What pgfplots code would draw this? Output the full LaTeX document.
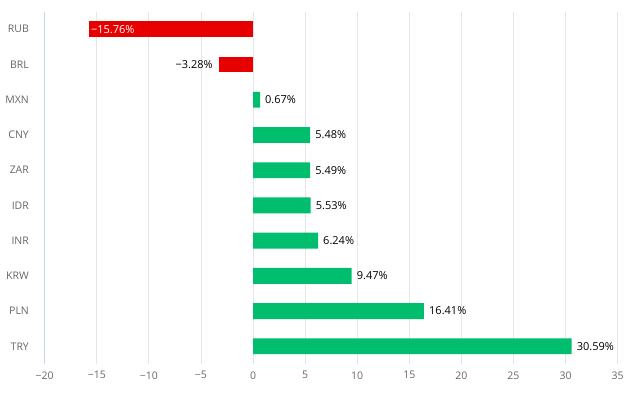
\documentclass[border=0pt]{standalone}
\usepackage{pgfplots}
\pgfplotsset{compat=1.18}
\usepackage{fontspec}
\setmainfont{Open Sans}
\definecolor{redbar}{HTML}{E60000}
\definecolor{greenbar}{HTML}{00BE6E}
\definecolor{gridc}{HTML}{E6E6E6}
\definecolor{axisc}{HTML}{CCD6EB}
\definecolor{tickc}{HTML}{666666}
\definecolor{labc}{HTML}{000000}
\begin{document}
\begin{tikzpicture}
\begin{axis}[
  scale only axis, width=573.6pt, height=352.6pt,
  xmin=-20, xmax=35, ymin=-0.5, ymax=9.5, y dir=reverse,
  axis x line*=bottom, axis y line*=left,
  x axis line style={draw=none},
  y axis line style={draw=axisc, line width=0.8pt, -},
  xtick={-20,-15,...,35},
  xticklabels={−20,−15,−10,−5,0,5,10,15,20,25,30,35},
  xtick style={draw=none},
  xmajorgrids, grid style={draw=gridc, line width=0.8pt},
  ytick={0,...,9},
  yticklabels={RUB,BRL,MXN,CNY,ZAR,IDR,INR,KRW,PLN,TRY},
  ytick style={draw=none},
  extra y ticks={-0.5,0.5,...,9.5},
  extra y tick labels={},
  extra y tick style={major tick length=10pt, tick align=outside, tick style={draw=axisc, line width=0.8pt}, ymajorgrids=false},
  ticklabel style={font=\fontsize{10.5}{12}\selectfont, text=tickc},
  yticklabel style={xshift=-8pt},
  xticklabel style={yshift=-4pt},
  xbar, bar width=0.45, bar shift=0pt,
  point meta=explicit symbolic,
  nodes near coords,
  every node near coord/.append style={font=\fontsize{11}{13}\selectfont, text=labc, inner sep=2pt},
]
\addplot[fill=greenbar, draw=none, every node near coord/.append style={anchor=west, xshift=3pt}] coordinates {
  (0.67,2) [0.67\%]
  (5.48,3) [5.48\%]
  (5.49,4) [5.49\%]
  (5.53,5) [5.53\%]
  (6.24,6) [6.24\%]
  (9.47,7) [9.47\%]
  (16.41,8) [16.41\%]
  (30.59,9) [30.59\%]
};
\addplot[fill=redbar, draw=none, every node near coord/.append style={anchor=east, xshift=-4pt}] coordinates {
  (-3.28,1) [−3.28\%]
};
\addplot[fill=redbar, draw=none, every node near coord/.append style={anchor=west, text=white, xshift=0pt}] coordinates {
  (-15.76,0) [−15.76\%]
};
\end{axis}
\path (current axis.south west) ++(-44.7pt,-33.7pt) rectangle ++(627pt,398pt);
\end{tikzpicture}
\end{document}
